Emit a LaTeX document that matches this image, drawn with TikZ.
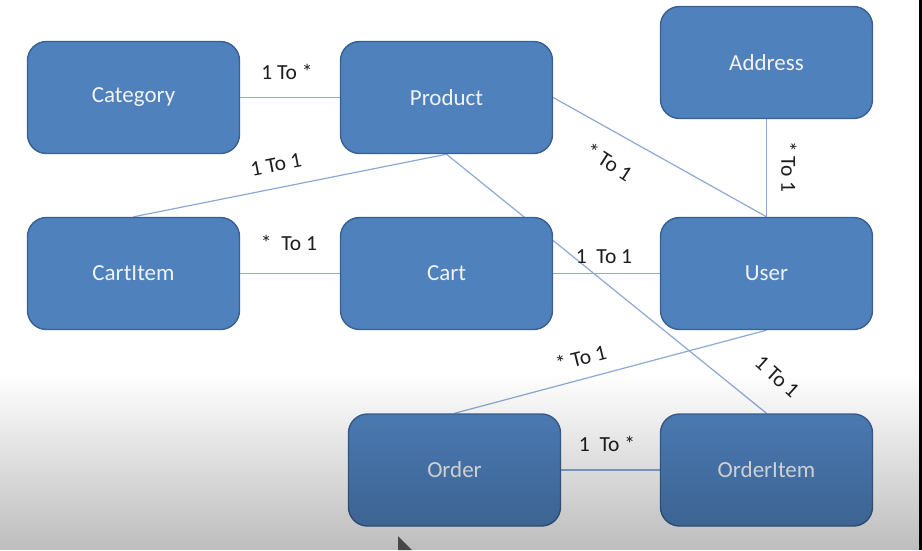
\documentclass[tikz,border=0pt]{standalone}
\usepackage{fontspec}
\setmainfont{Carlito}
\usetikzlibrary{fadings}

% darkening towards the bottom edge
\tikzfading[name=darkdown, top color=transparent!100, bottom color=transparent!0]

\pgfdeclarelayer{bg}
\pgfdeclarelayer{edges}
\pgfdeclarelayer{fg}
\pgfsetlayers{bg,edges,main,fg}

\definecolor{boxfill}{HTML}{4F81BD}
\definecolor{boxline}{HTML}{3A6092}
\definecolor{linkcol}{HTML}{8DA9D4}
\definecolor{labcol}{HTML}{1E1E1E}

\begin{document}
\begin{tikzpicture}[x=1pt,y=-1pt,
  entity/.style={draw=boxline, line width=1.4pt, fill=boxfill, rounded corners=19pt,
    minimum width=212pt, minimum height=112pt, inner sep=0pt,
    text=white!95!black, font=\fontsize{23}{27}\selectfont},
  link/.style={draw=linkcol, line width=1.2pt},
  card/.style={text=labcol, inner sep=1pt, font=\fontsize{21.5}{25}\selectfont}]

\useasboundingbox (0,0) rectangle (922,550);
\begin{pgfonlayer}{bg}
  \fill[white] (0,0) rectangle (922,550);
\end{pgfonlayer}

% entities
\node[entity] (category)  at (133.5,97.5)  {Category};
\node[entity] (product)   at (446.5,97.5)  {Product};
\node[entity] (address)   at (766.5,62.5)  {Address};
\node[entity] (cartitem)  at (133.5,273.5) {CartItem};
\node[entity] (cart)      at (446.5,273.5) {Cart};
\node[entity] (user)      at (766.5,273.5) {User};
\node[entity] (order)     at (454.5,470)   {Order};
\node[entity] (orderitem) at (766.5,470)   {OrderItem};

% relations
\begin{pgfonlayer}{edges}
  \draw[link] (category) -- (product);
  \draw[link] (product.south) -- (cartitem.north);
  \draw[link] (product.east) -- (user.north);
  \draw[link] (address) -- (user);
  \draw[link] (cartitem) -- (cart);
  \draw[link] (cart) -- (user);
  \draw[link] (product.south) -- (orderitem.north);
  \draw[link] (user.south) -- (order.north);
  \draw[link] (order) -- (orderitem);
\end{pgfonlayer}

% cardinalities
\node[card] (c1) at (287,72)               {1 To *};
\node[card, rotate=11] (c2) at (276,165)   {1 To 1};
\node[card, rotate=-33] (c3) at (609,162)  {* To 1};
\node[card, rotate=-90] (c4) at (789,167)  {* To 1};
\node[card] (c5) at (289,243)              {*\ \ To 1};
\node[card] (c6) at (604,257)              {1\ \ To 1};
\node[card, rotate=14] (c7) at (581,358)   {* To 1};
\node[card, rotate=-42] (c8) at (777,377)  {1 To 1};
\node[card] (c9) at (607,444)              {1\ \ To *};

\begin{pgfonlayer}{fg}
  \fill[black, opacity=0.26, path fading=darkdown] (0,373) rectangle (922,550);
  \fill[black] (919,0) rectangle (922,550);
  \fill[black!72] (398,536) -- (398,550) -- (412,550) -- cycle;
\end{pgfonlayer}
\end{tikzpicture}
\end{document}
